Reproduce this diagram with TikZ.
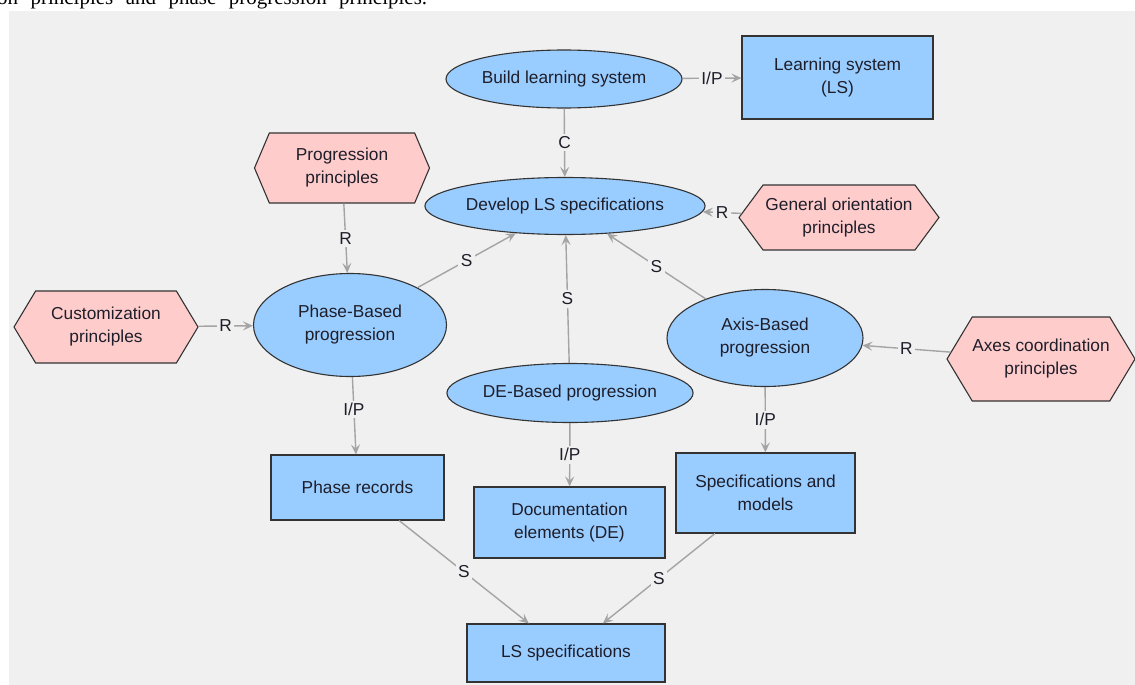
\documentclass[tikz,border=0pt]{standalone}
\usepackage{fontspec}
\setmainfont{Liberation Sans}
\newfontfamily\captionserif{Liberation Serif}
\usetikzlibrary{shapes.geometric,shapes.symbols,arrows.meta}

\definecolor{panelgray}{HTML}{F0F0F0}
\definecolor{procblue}{HTML}{99CCFF}
\definecolor{rulepink}{HTML}{FFCCCC}
\definecolor{edgegray}{HTML}{A4A4A4}
\definecolor{bordergray}{HTML}{333333}
\definecolor{textdark}{HTML}{1E1E2A}

\tikzset{
  process/.style={ellipse,draw=bordergray,fill=procblue,line width=1.1pt,inner sep=0pt,align=center},
  product/.style={rectangle,draw=bordergray,fill=procblue,line width=1.1pt,inner sep=0pt,align=center},
  principle/.style={signal,signal to=east and west,signal pointer angle=118,draw=bordergray,fill=rulepink,line width=1.1pt,inner sep=0pt,align=center},
  link/.style={draw=edgegray,line width=1.4pt,-{Stealth[length=10pt,width=9pt,inset=4pt]}},
  tag/.style={fill=panelgray,inner sep=2.5pt,text=textdark}
}

\begin{document}
\begin{tikzpicture}[x=1pt,y=-1pt,every node/.append style={font=\fontsize{17.3}{23}\selectfont,text=textdark}]
\useasboundingbox (0,0) rectangle (1135,685);
\fill[panelgray] (9,11) rectangle (1135,685);

% text of the page above the figure
\node[anchor=base west,inner sep=0pt,text=black,font=\captionserif\fontsize{21}{24}\selectfont] (caption) at (-3,5)
  {\makebox[430pt][s]{on principles and phase progression principles.}};

% processes
\node[process,minimum width=236pt,minimum height=58pt] (build) at (564,79) {Build learning system};
\node[process,minimum width=266pt,minimum height=57pt] (develop) at (565,206) {Develop LS specifications};
\node[process,minimum width=193pt,minimum height=103pt] (phase) at (350,325) {Phase-Based\\progression};
\node[process,minimum width=246pt,minimum height=59pt] (debased) at (570,393) {DE-Based progression};
\node[process,minimum width=196pt,minimum height=97pt] (axis) at (765,338) {Axis-Based\\progression};

% products
\node[product,minimum width=191pt,minimum height=83pt] (lsys) at (837.5,77.5) {Learning system\\(LS)};
\node[product,minimum width=173pt,minimum height=65pt] (phaserec) at (357.5,487.5) {Phase records};
\node[product,minimum width=191pt,minimum height=71pt] (docel) at (569.5,522.5) {Documentation\\elements (DE)};
\node[product,minimum width=179pt,minimum height=80pt] (specmod) at (765.5,493) {Specifications and\\models};
\node[product,minimum width=198pt,minimum height=58pt] (lsspec) at (566,653) {LS specifications};

% principles
\node[principle,signal pointer angle=134,minimum width=175pt,minimum height=70pt] (progpr) at (342,168) {Progression\\principles};
\node[principle,minimum width=184pt,minimum height=72pt] (custpr) at (106,327) {Customization\\principles};
\node[principle,signal pointer angle=107,minimum width=200pt,minimum height=65pt] (genpr) at (839,217.5) {General orientation\\principles};
\node[principle,minimum width=187pt,minimum height=84pt] (axespr) at (1041,359) {Axes coordination\\principles};

% connectors
\draw[link] (build) -- node[tag] {I/P} (lsys);
\draw[link] (build) -- node[tag] {C} (develop);
\draw[link] (genpr) -- node[tag] {R} (develop);
\draw[link] (progpr) -- node[tag] {R} (phase);
\draw[link] (custpr) -- node[tag] {R} (phase);
\draw[link] (phase) -- node[tag] {S} (develop);
\draw[link] (debased) -- node[tag] {S} (develop);
\draw[link] (axis) -- node[tag] {S} (develop);
\draw[link] (axespr) -- node[tag] {R} (axis);
\draw[link] (phase) -- node[tag,pos=0.42] {I/P} (phaserec);
\draw[link] (debased) -- node[tag] {I/P} (docel);
\draw[link] (axis) -- node[tag] {I/P} (specmod);
\draw[link] (phaserec) -- node[tag] {S} (lsspec);
\draw[link] (specmod) -- node[tag] {S} (lsspec);
\end{tikzpicture}
\end{document}
